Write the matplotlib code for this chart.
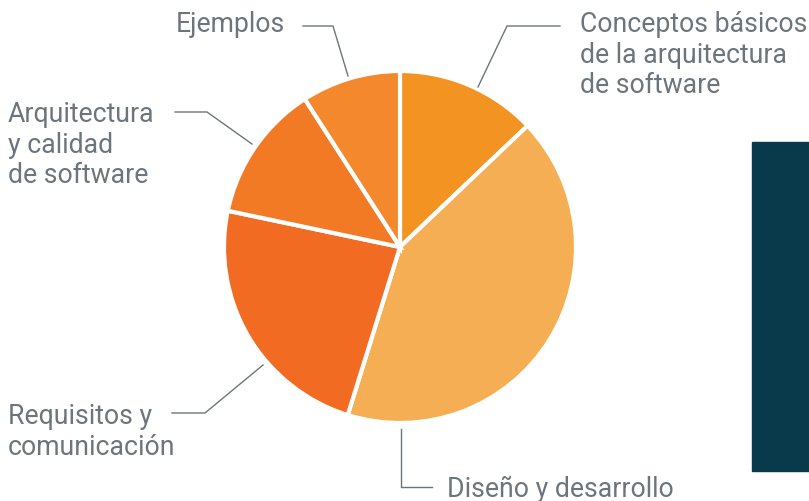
import matplotlib.pyplot as plt
from matplotlib.patches import Rectangle

plt.rcParams['font.family'] = ['Roboto', 'DejaVu Sans']

# Slice data (clockwise from top)
labels = ['Conceptos básicos\nde la arquitectura\nde software', 'Diseño y desarrollo',
          'Requisitos y\ncomunicación', 'Arquitectura\ny calidad\nde software', 'Ejemplos']
values = [12.9, 41.9, 23.5, 12.6, 9.1]
colors = ['#F39322', '#F6AE55', '#F26B23', '#F37A25', '#F4882C']

W, H = 809, 502
fig = plt.figure(figsize=(W / 100, H / 100), dpi=100)
ax = fig.add_axes([0, 0, 1, 1])

cx, cy, r = 400, H - 248, 176
ax.pie(values, colors=colors, startangle=90, counterclock=False,
       center=(cx, cy), radius=r, frame=True,
       wedgeprops=dict(edgecolor='white', linewidth=3))
ax.set_xlim(0, W)
ax.set_ylim(0, H)
ax.set_aspect('equal')
ax.axis('off')

# dark panel on the right
ax.add_patch(Rectangle((752, H - 472), 60, 329, color='#083A4C', zorder=0))

gray = '#6D757C'
line_kw = dict(color=gray, lw=1.0, zorder=3)

# leader lines (pixel positions, y from top)
leaders = [
    [(478, 88), (507, 27), (560, 27)],
    [(401, 430), (401, 488), (432, 488)],
    [(263, 366), (205, 414), (172, 414)],
    [(252, 145), (207, 113), (175, 113)],
    [(348, 77), (333, 27), (303, 27)],
]
for pts in leaders:
    ax.plot([p[0] for p in pts], [H - p[1] for p in pts], **line_kw)

# label positions (left x, top y of first line)
label_pos = [(580, 11), (447, 476), (8, 403), (8, 101), (176, 11)]
for lab, (x, y) in zip(labels, label_pos):
    ax.text(x, H - y, lab, ha='left', va='top', fontsize=19.2, color=gray,
            linespacing=1.17)

fig.savefig('out.png', dpi=100)
